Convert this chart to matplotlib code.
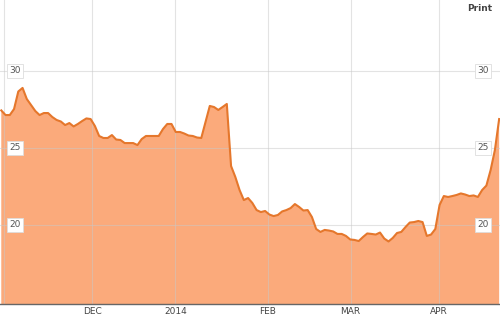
import numpy as np
import matplotlib.pyplot as plt

# closing prices, one per trading day (Nov 2013 - mid Apr 2014)
prices = [27.44, 27.14, 27.14, 27.53, 28.67, 28.90, 28.18, 27.79, 27.40, 27.14,
          27.27, 27.27, 27.01, 26.82, 26.72, 26.49, 26.62, 26.40, 26.56, 26.75,
          26.92, 26.88, 26.43, 25.78, 25.65, 25.65, 25.84, 25.55, 25.52, 25.32,
          25.32, 25.32, 25.19, 25.58, 25.78, 25.78, 25.78, 25.78, 26.23, 26.56,
          26.56, 26.04, 26.04, 25.94, 25.81, 25.78, 25.68, 25.65, 26.69, 27.73,
          27.66, 27.47, 27.66, 27.86, 23.83, 23.12, 22.27, 21.62, 21.75, 21.43,
          20.97, 20.84, 20.91, 20.68, 20.58, 20.65, 20.88, 20.97, 21.10, 21.36,
          21.17, 20.94, 20.97, 20.52, 19.74, 19.55, 19.68, 19.64, 19.58, 19.42,
          19.42, 19.29, 19.06, 19.03, 18.96, 19.22, 19.45, 19.42, 19.38, 19.51,
          19.12, 18.93, 19.16, 19.48, 19.55, 19.87, 20.16, 20.19, 20.26, 20.19,
          19.29, 19.38, 19.74, 21.30, 21.88, 21.82, 21.88, 21.95, 22.05, 21.98,
          21.88, 21.92, 21.82, 22.27, 22.56, 23.57, 24.87, 26.88]

month_pos = [0.7, 21.4, 40.9, 62.6, 82.1, 102.8]
month_labels = ['', 'DEC', '2014', 'FEB', 'MAR', 'APR']
y_levels = [20, 25, 30]

days = np.arange(len(prices))

fig = plt.figure(figsize=(5.0, 3.21), dpi=100)
ax = fig.add_axes([0, 17 / 321, 1, 304 / 321])

ax.fill_between(days, prices, 0, color='#fbaa7b', lw=0, zorder=1)
ax.plot(days, prices, color='#e5772c', lw=1.5, zorder=3)

ax.set_xlim(-0.3, 117.2)
ax.set_ylim(14.87, 34.61)

for p in month_pos:
    ax.axvline(p, color='#c8c8c8', lw=0.8, alpha=0.5, zorder=2)
for v in y_levels:
    ax.axhline(v, color='#c8c8c8', lw=0.8, alpha=0.5, zorder=2)
    for xf in [0.03, 0.966]:
        ax.text(xf, v, str(v), transform=ax.get_yaxis_transform(), ha='center', va='center',
                fontsize=6.5, color='#555555', zorder=4,
                bbox=dict(boxstyle='square,pad=0.25', fc='white', ec='#dddddd', lw=0.6))

ax.set_xticks(month_pos)
ax.set_xticklabels(month_labels, fontsize=6.5, color='#444444')
ax.tick_params(axis='x', length=0, pad=2)
ax.set_yticks([])

for s in ['top', 'left', 'right']:
    ax.spines[s].set_visible(False)
ax.spines['bottom'].set_color('#666666')
ax.spines['bottom'].set_linewidth(1.0)
ax.spines['bottom'].set_zorder(5)

fig.text(0.96, 0.972, 'Print', ha='center', va='center', fontsize=6.5,
         fontweight='bold', color='#444444')

fig.savefig('out.png', dpi=100)
